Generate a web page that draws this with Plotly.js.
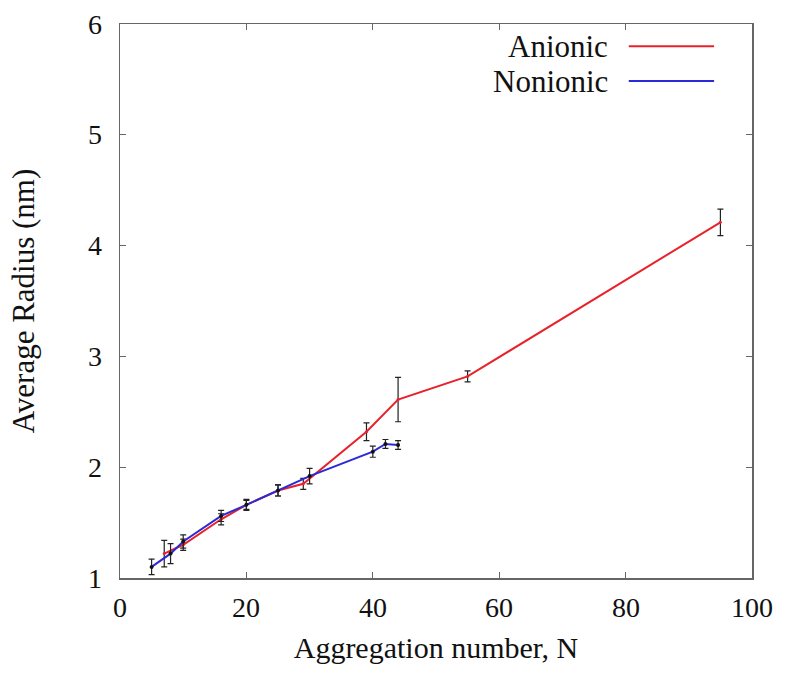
<!DOCTYPE html>
<html>
<head>
<meta charset="utf-8">
<script src="https://cdn.plot.ly/plotly-3.0.1.min.js"></script>
<style>html,body{margin:0;padding:0;background:#fff;}#chart{width:785px;height:679px;}</style>
</head>
<body>
<div id="chart"></div>
<script>
// Data
const anionicN = [7, 10, 16, 20, 25, 29, 39, 44, 55, 95];
const anionicR = [1.22, 1.30, 1.53, 1.66, 1.79, 1.85, 2.32, 2.61, 2.82, 4.21];
const anionicErr = [0.12, 0.05, 0.05, 0.05, 0.05, 0.05, 0.08, 0.20, 0.05, 0.12];

const nonionicN = [5, 8, 10, 16, 20, 25, 30, 40, 42, 44];
const nonionicR = [1.10, 1.22, 1.33, 1.56, 1.66, 1.79, 1.92, 2.14, 2.21, 2.20];
const nonionicErr = [0.07, 0.09, 0.06, 0.05, 0.04, 0.05, 0.07, 0.05, 0.04, 0.04];

const xTickVals = [0, 20, 40, 60, 80, 100];
const yTickVals = [1, 2, 3, 4, 5, 6];

const legendNames = ["Anionic", "Nonionic"];
const seriesColors = ["#e8222a", "#2a2ad6"];

const FAM = "Liberation Serif";
function f(size) { return {family: FAM, color: "#111", size: size}; }

const traces = [
  {
    x: anionicN, y: anionicR, name: legendNames[0], type: "scatter", mode: "lines+markers",
    line: {color: seriesColors[0], width: 2},
    marker: {color: seriesColors[0], size: 3},
    error_y: {type: "data", array: anionicErr, visible: true, color: "#222", thickness: 1.2, width: 3}
  },
  {
    x: nonionicN, y: nonionicR, name: legendNames[1], type: "scatter", mode: "lines+markers",
    line: {color: seriesColors[1], width: 2},
    marker: {color: "#111", size: 4},
    error_y: {type: "data", array: nonionicErr, visible: true, color: "#222", thickness: 1.2, width: 3}
  }
];

// Tick labels drawn as annotations at the axis tick values (serif font)
const tickAnnotations = [].concat(
  xTickVals.map(v => ({
    xref: "x", yref: "paper", x: v, y: 0, yanchor: "top", xanchor: "center",
    yshift: -12, text: String(v), showarrow: false, font: f(28)
  })),
  yTickVals.map(v => ({
    xref: "paper", yref: "y", x: 0, y: v, xanchor: "right", yanchor: "middle",
    xshift: -16, text: String(v), showarrow: false, font: f(28)
  }))
);

const legendAnnotations = legendNames.map((n, i) => ({
  xref: "paper", yref: "paper", x: 0.775, y: 0.96 - i * 0.063,
  xanchor: "right", yanchor: "middle", text: n, showarrow: false, font: f(31)
}));

const layout = {
  width: 785, height: 679,
  margin: {l: 120, r: 33, t: 24, b: 101},
  paper_bgcolor: "#fff", plot_bgcolor: "#fff",
  showlegend: false,
  font: f(28),
  xaxis: {
    showgrid: false, zeroline: false, showline: true, mirror: "ticks",
    linecolor: "#666", linewidth: 1.5, ticks: "inside", ticklen: 6, tickcolor: "#666",
    showticklabels: false,
    range: [0, 100], tickmode: "array", tickvals: xTickVals,
    title: {text: "Aggregation number, N", font: f(30), standoff: 58}
  },
  yaxis: {
    showgrid: false, zeroline: false, showline: true, mirror: "ticks",
    linecolor: "#666", linewidth: 1.5, ticks: "inside", ticklen: 6, tickcolor: "#666",
    showticklabels: false,
    range: [1, 6], tickmode: "array", tickvals: yTickVals,
    title: {text: "Average Radius (nm)", font: f(31), standoff: 74}
  },
  annotations: tickAnnotations.concat(legendAnnotations),
  shapes: legendNames.map((n, i) => ({
    type: "line", xref: "paper", yref: "paper",
    x0: 0.805, x1: 0.94, y0: 0.96 - i * 0.063, y1: 0.96 - i * 0.063,
    line: {color: seriesColors[i], width: 2}
  }))
};

Plotly.newPlot("chart", traces, layout, {displayModeBar: false, staticPlot: true});
</script>
</body>
</html>
